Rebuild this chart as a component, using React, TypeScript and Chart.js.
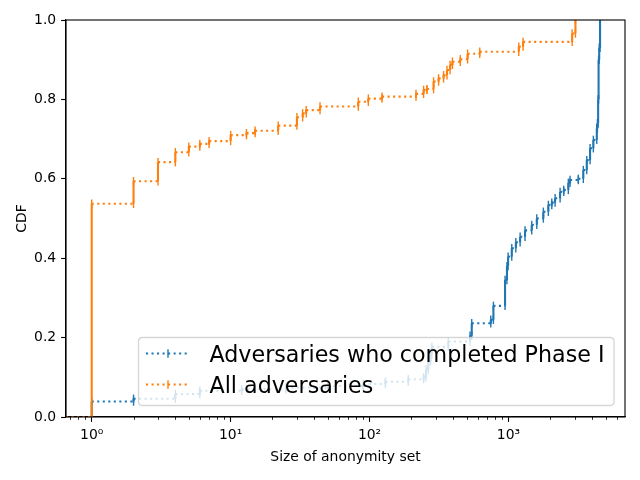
import React, { useEffect, useRef } from 'react';
import { Chart, registerables } from 'chart.js';

Chart.register(...registerables);

// ---- axis settings ----
const X_MIN = 0.653;
const X_MAX = 6900;
const X_TICKS = [1, 10, 100, 1000];
const X_TICK_LABELS = ['10⁰', '10¹', '10²', '10³'];
const Y_TICKS = [0, 0.2, 0.4, 0.6, 0.8, 1.0];
const Y_TICK_LABELS = ['0.0', '0.2', '0.4', '0.6', '0.8', '1.0'];
const X_TITLE = 'Size of anonymity set';
const Y_TITLE = 'CDF';

// ---- series: size of anonymity set -> CDF level after the step ----
const PHASE1_LABEL = 'Adversaries who completed Phase I';
const PHASE1_SIZES = [0, 1, 2, 4, 6, 12, 25, 50, 90, 130, 190, 245, 255, 265, 275, 281, 369, 529, 544, 746, 779, 945, 975, 994, 1056, 1130, 1213, 1316, 1471, 1599, 1783, 1937, 2050, 2166, 2353, 2500, 2698, 2775, 3184, 3458, 3661, 3867, 4084, 4323, 4367, 4420, 4454, 4500, 4564];
const PHASE1_CDF = [0, 0.039, 0.046, 0.058, 0.066, 0.070, 0.074, 0.078, 0.083, 0.089, 0.095, 0.100, 0.120, 0.140, 0.160, 0.177, 0.190, 0.205, 0.236, 0.245, 0.280, 0.345, 0.380, 0.404, 0.425, 0.440, 0.454, 0.470, 0.484, 0.500, 0.517, 0.534, 0.540, 0.551, 0.567, 0.572, 0.590, 0.597, 0.600, 0.622, 0.647, 0.677, 0.698, 0.727, 0.740, 0.800, 0.900, 0.930, 1.0];

const ALL_LABEL = 'All adversaries';
const ALL_SIZES = [0, 1, 2, 3, 4, 5, 6, 7, 10, 13, 15, 22, 30, 33, 35, 44, 83, 98, 123, 216, 245, 259, 289, 314, 341, 361, 380, 395, 450, 508, 621, 1186, 1274, 2874, 3035];
const ALL_CDF = [0, 0.537, 0.594, 0.642, 0.667, 0.681, 0.688, 0.695, 0.710, 0.715, 0.721, 0.734, 0.755, 0.765, 0.773, 0.782, 0.794, 0.802, 0.807, 0.814, 0.824, 0.826, 0.845, 0.853, 0.861, 0.874, 0.887, 0.895, 0.901, 0.915, 0.920, 0.933, 0.945, 0.966, 1.0];

const BLUE = '#1f77b4';
const ORANGE = '#ff7f0e';
const FONT = 'DejaVu Sans';
const DOT = [2.08, 3.44];

function buildSteps(sizes: number[], cdf: number[]) {
  const pts: { x: number; y: number }[] = [];
  sizes.forEach((s, i) => {
    const x = s <= 0 ? X_MIN : s;
    if (i === 0) pts.push({ x, y: cdf[0] });
    else {
      pts.push({ x, y: cdf[i - 1] });
      pts.push({ x, y: cdf[i] });
    }
  });
  return pts;
}

const decorPlugin = {
  id: 'decor',
  afterDatasetsDraw(chart: any) {
    const { ctx, chartArea: a, scales } = chart;
    const xs = scales.x;
    ctx.save();
    // minor ticks on log axis
    ctx.strokeStyle = '#000';
    ctx.lineWidth = 0.83;
    for (let k = -1; k <= 3; k++) {
      for (let m = 2; m <= 9; m++) {
        const v = m * Math.pow(10, k);
        if (v < xs.min || v > xs.max) continue;
        const px = Math.round(xs.getPixelForValue(v)) + 0.5;
        ctx.beginPath();
        ctx.moveTo(px, a.bottom);
        ctx.lineTo(px, a.bottom + 2.8);
        ctx.stroke();
      }
    }
    // frame
    ctx.lineWidth = 1.1;
    ctx.strokeRect(a.left, a.top, a.right - a.left, a.bottom - a.top);

    // legend box
    const bx = 138.5, by = 337.5, bw = 475.5, bh = 68, r = 4;
    ctx.beginPath();
    ctx.moveTo(bx + r, by);
    ctx.lineTo(bx + bw - r, by);
    ctx.quadraticCurveTo(bx + bw, by, bx + bw, by + r);
    ctx.lineTo(bx + bw, by + bh - r);
    ctx.quadraticCurveTo(bx + bw, by + bh, bx + bw - r, by + bh);
    ctx.lineTo(bx + r, by + bh);
    ctx.quadraticCurveTo(bx, by + bh, bx, by + bh - r);
    ctx.lineTo(bx, by + r);
    ctx.quadraticCurveTo(bx, by, bx + r, by);
    ctx.closePath();
    ctx.fillStyle = 'rgba(255,255,255,0.8)';
    ctx.fill();
    ctx.strokeStyle = 'rgba(204,204,204,0.8)';
    ctx.lineWidth = 1.3;
    ctx.stroke();

    const entries = [
      { label: PHASE1_LABEL, color: BLUE, y: 353.5 },
      { label: ALL_LABEL, color: ORANGE, y: 384.5 },
    ];
    entries.forEach((e) => {
      ctx.strokeStyle = e.color;
      ctx.lineWidth = 2.08;
      ctx.setLineDash(DOT);
      ctx.beginPath();
      ctx.moveTo(146, e.y);
      ctx.lineTo(190, e.y);
      ctx.stroke();
      ctx.setLineDash([]);
      ctx.lineWidth = 1.4;
      ctx.beginPath();
      ctx.moveTo(168, e.y - 4.2);
      ctx.lineTo(168, e.y + 4.2);
      ctx.stroke();
      ctx.fillStyle = '#000';
      ctx.font = `22.2px "${FONT}"`;
      ctx.textBaseline = 'alphabetic';
      ctx.textAlign = 'left';
      ctx.fillText(e.label, 209.5, e.y + 8.8);
    });
    ctx.restore();
  },
};

function makeDataset(label: string, sizes: number[], cdf: number[], color: string, order: number) {
  return {
    label,
    data: buildSteps(sizes, cdf),
    showLine: true,
    borderColor: color,
    backgroundColor: color,
    borderWidth: 2.08,
    order,
    pointStyle: 'line',
    rotation: 90,
    pointRadius: (c: any) => (c.dataIndex === 0 ? 0 : 4.2),
    pointBorderWidth: 1.4,
    pointBorderColor: color,
    pointHoverRadius: 0,
    segment: {
      borderDash: (c: any) => (Math.abs(c.p0.x - c.p1.x) < 0.01 ? [] : DOT),
    },
  };
}

export default function App() {
  const ref = useRef<HTMLCanvasElement>(null);
  useEffect(() => {
    if (!ref.current) return;
    const tickFont = { family: FONT, size: 13.9 };
    const chart = new Chart(ref.current, {
      type: 'scatter',
      data: {
        datasets: [
          makeDataset(PHASE1_LABEL, PHASE1_SIZES, PHASE1_CDF, BLUE, 1) as any,
          makeDataset(ALL_LABEL, ALL_SIZES, ALL_CDF, ORANGE, 0) as any,
        ],
      },
      options: {
        responsive: false,
        animation: false,
        events: [],
        layout: { padding: { top: 20, right: 15, left: 0, bottom: 0 } },
        plugins: { legend: { display: false }, tooltip: { enabled: false } },
        scales: {
          x: {
            type: 'logarithmic',
            min: X_MIN,
            max: X_MAX,
            afterBuildTicks: (s: any) => {
              s.ticks = X_TICKS.map((v) => ({ value: v }));
            },
            afterFit: (s: any) => {
              s.height = 63;
            },
            ticks: {
              autoSkip: false,
              maxRotation: 0,
              color: '#000',
              font: tickFont,
              padding: 4.9,
              callback: (v: any) => {
                const i = X_TICKS.indexOf(Number(v));
                return i >= 0 ? X_TICK_LABELS[i] : '';
              },
            },
            grid: { drawOnChartArea: false, drawTicks: true, tickLength: 4.9, color: '#000', tickWidth: 1.1 },
            border: { display: true, color: '#000', width: 1.1 },
            title: { display: true, text: X_TITLE, color: '#000', font: tickFont, padding: { top: 0, bottom: 14.7 } },
          },
          y: {
            type: 'linear',
            min: 0,
            max: 1,
            afterBuildTicks: (s: any) => {
              s.ticks = Y_TICKS.map((v) => ({ value: v }));
            },
            afterFit: (s: any) => {
              s.width = 66;
            },
            ticks: {
              color: '#000',
              font: tickFont,
              padding: 4.9,
              callback: (v: any) => {
                const i = Y_TICKS.findIndex((t) => Math.abs(t - Number(v)) < 1e-9);
                return i >= 0 ? Y_TICK_LABELS[i] : '';
              },
            },
            grid: { drawOnChartArea: false, drawTicks: true, tickLength: 4.9, color: '#000', tickWidth: 1.1 },
            border: { display: true, color: '#000', width: 1.1 },
            title: { display: true, text: Y_TITLE, color: '#000', font: tickFont, padding: { top: 14, bottom: 0 } },
          },
        },
      },
      plugins: [decorPlugin],
    });
    return () => chart.destroy();
  }, []);
  return (
    <div style={{ position: 'fixed', left: 0, top: 0, width: 640, height: 480, background: '#fff' }}>
      <canvas ref={ref} width={640} height={480} style={{ display: 'block' }} />
    </div>
  );
}
